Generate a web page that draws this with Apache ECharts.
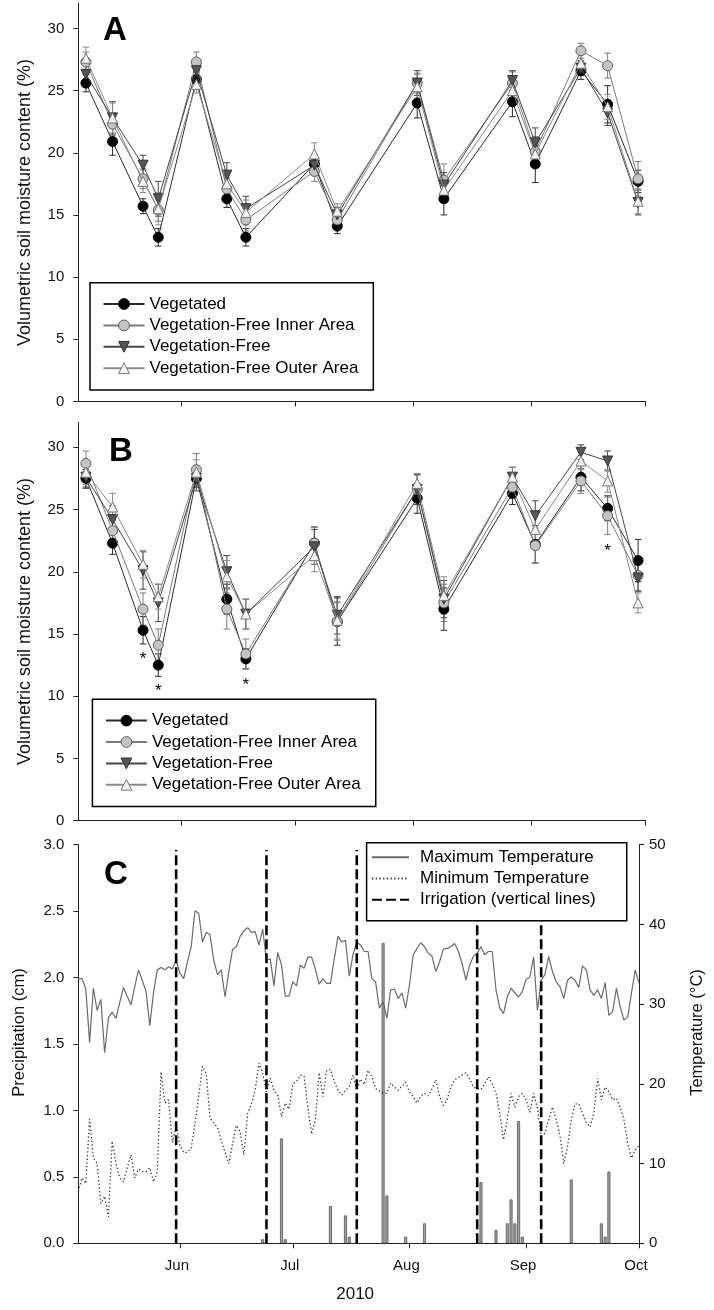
<!DOCTYPE html>
<html>
<head>
<meta charset="utf-8">
<script src="https://cdn.jsdelivr.net/npm/echarts@6/dist/echarts.min.js"></script>
<style>
  html, body { margin: 0; padding: 0; background: #fff; }
  #chart { width: 714px; height: 1310px; }
</style>
</head>
<body>
<div id="chart"></div>
<script>
// x axis is "days after 5 May 2010"
const START = Date.UTC(2010, 4, 5);
function day(s) {
  const [m, d] = s.split('-').map(Number);
  return (Date.UTC(2010, m - 1, d) - START) / 864e5;
}

const monthTicks = ['06-01', '07-01', '08-01', '09-01', '10-01'];
const monthLabels = ['Jun', 'Jul', 'Aug', 'Sep', 'Oct'];
const moistureTicks = [0, 5, 10, 15, 20, 25, 30];

const seriesNames = ['Vegetated', 'Vegetation-Free Inner Area', 'Vegetation-Free', 'Vegetation-Free Outer Area'];
const sampleDates = ['05-07', '05-14', '05-22', '05-26', '06-05', '06-13', '06-18', '07-06',
  '07-12', '08-02', '08-09', '08-27', '09-02', '09-14', '09-21', '09-29'];

// Panel A
const vegA = [25.6, 20.9, 15.7, 13.2, 25.9, 16.3, 13.2, 19.1, 14.1, 24.0, 16.3, 24.1, 19.1, 26.6, 23.9, 17.7];
const innerA = [27.3, 22.3, 17.9, 15.4, 27.3, 17.1, 14.6, 18.5, 14.6, 25.6, 17.8, 25.6, 20.1, 28.2, 27.0, 17.9];
const freeA = [26.3, 22.8, 19.0, 16.3, 26.6, 18.2, 15.5, 19.0, 15.0, 25.6, 17.4, 25.8, 20.8, 26.8, 23.2, 16.0];
const outerA = [27.6, 22.8, 17.7, 15.5, 25.5, 17.5, 15.2, 19.9, 15.3, 25.3, 17.0, 25.0, 19.9, 27.2, 23.7, 16.1];
const vegAErr = [0.7, 1.1, 0.6, 0.7, 0.7, 0.7, 0.7, 0.7, 0.6, 1.2, 1.3, 1.2, 1.5, 0.7, 1.5, 0.9];
const innerAErr = [0.8, 0.9, 0.8, 0.9, 0.8, 0.9, 0.9, 0.8, 0.7, 0.8, 1.3, 0.9, 1.2, 0.6, 1.0, 1.4];
const freeAErr = [0.8, 1.3, 0.8, 1.4, 0.8, 1.0, 1.0, 0.8, 0.6, 1.0, 1.0, 0.8, 1.2, 0.6, 1.0, 1.0];
const outerAErr = [0.9, 1.2, 0.9, 1.3, 0.7, 1.0, 1.0, 0.9, 0.6, 1.0, 1.0, 0.9, 1.0, 0.7, 1.0, 1.0];

// Panel B
const vegB = [27.5, 22.3, 15.3, 12.5, 27.5, 17.8, 13.0, 22.3, 16.0, 25.9, 17.0, 26.3, 22.2, 27.6, 25.1, 20.9];
const innerB = [28.7, 23.3, 17.0, 14.1, 28.2, 17.0, 13.4, 22.3, 16.0, 26.6, 17.5, 26.8, 22.1, 27.3, 24.5, 19.7];
const freeB = [27.6, 24.2, 20.1, 17.5, 27.5, 20.0, 16.6, 22.0, 16.5, 26.6, 17.8, 27.6, 24.5, 29.6, 28.9, 19.5];
const outerB = [28.0, 25.2, 20.6, 18.0, 28.0, 19.6, 16.6, 21.3, 16.1, 27.1, 18.1, 27.6, 23.4, 28.9, 27.3, 17.5];
const vegBErr = [0.7, 0.9, 1.1, 0.9, 0.7, 1.2, 0.8, 1.3, 1.9, 1.2, 1.7, 0.9, 1.5, 1.1, 1.0, 1.7];
const innerBErr = [1.0, 0.9, 1.3, 1.3, 1.3, 1.6, 1.2, 1.3, 1.5, 1.2, 1.5, 0.9, 1.4, 1.0, 1.5, 1.2];
const freeBErr = [0.9, 1.1, 1.5, 1.5, 1.0, 1.3, 1.2, 1.4, 1.5, 1.2, 1.5, 0.8, 1.2, 0.6, 0.8, 1.1];
const outerBErr = [1.0, 1.1, 1.1, 1.0, 1.0, 1.3, 1.2, 1.3, 1.5, 0.8, 1.5, 0.8, 1.3, 0.7, 0.9, 0.8];

// significance marks in panel B
const starDates = ['05-22', '05-26', '06-18', '09-21'];
const starLevels = [13.3, 10.7, 11.2, 22.0];

// Panel C: daily temperatures from 5 May to 1 Oct
const maxTemp = [
  33.2, 33.2, 31.9, 25.2, 32.0, 29.2, 30.6, 23.9, 28.3, 29.0,
  28.2, 30.2, 32.1, 31.0, 29.9, 32.2, 34.3, 33.0, 31.6, 27.3,
  31.5, 34.3, 34.6, 34.3, 34.7, 34.4, 35.5, 33.9, 33.2, 35.3,
  37.2, 41.7, 41.4, 37.8, 39.0, 38.7, 35.5, 33.7, 34.3, 30.9,
  34.1, 36.9, 37.2, 38.5, 39.2, 39.6, 39.0, 39.1, 37.4, 39.4,
  35.5, 35.7, 32.3, 36.5, 34.9, 31.0, 31.0, 32.8, 32.3, 34.9,
  34.5, 35.9, 35.9, 34.4, 32.5, 33.2, 32.6, 32.6, 35.6, 38.5,
  37.8, 38.0, 33.5, 36.2, 37.8, 37.4, 36.6, 36.6, 33.2, 32.8,
  29.5, 30.3, 28.2, 31.8, 31.9, 30.7, 31.4, 29.5, 32.4, 36.2,
  37.0, 37.7, 37.2, 36.4, 36.0, 34.1, 35.3, 36.9, 37.0, 37.2,
  37.6, 36.6, 35.1, 33.0, 34.9, 36.0, 36.4, 37.2, 36.2, 36.6,
  36.6, 31.8, 29.5, 28.8, 30.9, 32.0, 31.4, 30.9, 31.6, 33.1,
  33.4, 35.9, 29.2, 33.0, 33.7, 36.0, 34.1, 32.8, 32.2, 30.7,
  33.0, 33.4, 33.0, 32.1, 34.8, 34.3, 31.8, 31.1, 31.8, 30.7,
  32.7, 28.6, 29.1, 32.0, 29.7, 28.0, 28.4, 31.4, 34.3, 32.6
];
const minTemp = [
  6.5, 8.2, 7.5, 15.6, 10.7, 10.0, 5.0, 5.9, 3.3, 12.8,
  10.1, 8.2, 7.7, 9.5, 11.1, 8.2, 9.3, 9.0, 9.0, 9.5,
  7.7, 9.0, 21.5, 17.6, 18.0, 12.6, 14.8, 12.3, 11.4, 11.4,
  12.0, 15.0, 18.5, 22.2, 21.3, 15.7, 15.1, 14.5, 12.9, 11.4,
  10.0, 12.5, 14.8, 14.0, 11.1, 16.3, 17.5, 19.2, 22.6, 21.3,
  19.0, 20.7, 19.2, 18.6, 15.9, 17.6, 16.8, 20.0, 20.3, 21.1,
  21.0, 17.1, 13.7, 15.5, 21.4, 18.4, 21.7, 21.8, 20.3, 19.2,
  18.6, 19.2, 19.6, 21.1, 19.2, 20.6, 19.9, 21.7, 20.9, 19.4,
  19.1, 18.8, 18.8, 20.1, 19.6, 19.2, 19.7, 20.2, 19.0, 18.4,
  17.6, 18.5, 18.8, 18.5, 19.4, 20.5, 18.4, 17.3, 18.0, 19.6,
  20.5, 20.8, 21.1, 21.4, 20.6, 19.6, 19.4, 19.3, 20.0, 20.9,
  20.0, 18.8, 16.3, 13.0, 15.5, 18.8, 17.1, 18.4, 18.8, 18.0,
  16.4, 18.8, 17.0, 13.4, 13.8, 15.5, 17.1, 15.5, 13.5, 10.0,
  12.1, 15.5, 17.5, 17.5, 16.3, 15.1, 14.6, 16.3, 20.7, 18.0,
  19.6, 19.0, 18.0, 18.2, 17.1, 15.5, 12.5, 10.7, 11.7, 12.3
];
const precipDates = ['06-23', '06-28', '06-29', '07-11', '07-15', '07-16', '07-25', '07-26', '07-31', '08-05',
  '08-20', '08-24', '08-27', '08-28', '08-29', '08-30', '08-31', '09-13', '09-21', '09-22', '09-23'];
const precipCm = [0.03, 0.79, 0.03, 0.28, 0.21, 0.05, 2.26, 0.36, 0.05, 0.15,
  0.46, 0.10, 0.15, 0.33, 0.15, 0.92, 0.05, 0.48, 0.15, 0.05, 0.54];
const irrigationDates = ['05-31', '06-24', '07-18', '08-19', '09-05'];
const IRRIGATION_TOP = 2.96;

const FONT = "'Liberation Sans', Arial, sans-serif";
const AXIS_COLOR = '#222';
const monthDays = monthTicks.map(day);

const styles = [
  { symbol: 'circle', rotate: 0, fill: '#000', border: '#000', line: '#2a2a2a' },
  { symbol: 'circle', rotate: 0, fill: '#c4c4c4', border: '#606060', line: '#7a7a7a' },
  { symbol: 'triangle', rotate: 180, fill: '#555', border: '#333', line: '#454545' },
  { symbol: 'triangle', rotate: 0, fill: '#f2f2f2', border: '#777', line: '#8a8a8a' }
];

const panels = [
  { values: [vegA, innerA, freeA, outerA], errors: [vegAErr, innerAErr, freeAErr, outerAErr] },
  { values: [vegB, innerB, freeB, outerB], errors: [vegBErr, innerBErr, freeBErr, outerBErr] }
];

const GRID_LEFT = 78.3;
const GRID_WIDTH = 567.4;
const grids = [
  { left: GRID_LEFT, top: 3.5, width: GRID_WIDTH, height: 398 },
  { left: GRID_LEFT, top: 422.4, width: GRID_WIDTH, height: 398.3 },
  { left: GRID_LEFT, top: 844.7, width: GRID_WIDTH, height: 398.6 }
];

const axisLine = { show: true, onZero: false, lineStyle: { color: AXIS_COLOR, width: 1 } };
const axisTick = { show: true, inside: false, length: 5, lineStyle: { color: AXIS_COLOR, width: 1 } };
const labelStyle = { color: '#111', fontSize: 15, fontFamily: FONT };

function xAxisFor(i) {
  return {
    type: 'value', gridIndex: i, min: 0, max: 149,
    axisLine, splitLine: { show: false },
    axisTick: Object.assign({}, axisTick, { customValues: monthDays }),
    axisLabel: i === 2
      ? Object.assign({}, labelStyle, {
          margin: 15, padding: [0, 6, 0, 0], customValues: monthDays,
          formatter: v => monthLabels[monthDays.indexOf(v)] || ''
        })
      : { show: false },
    name: i === 2 ? '2010' : '',
    nameLocation: 'middle', nameGap: 43,
    nameTextStyle: { color: '#111', fontSize: 17, fontFamily: FONT, padding: [0, 7, 0, 0] }
  };
}

function moistureYAxis(i) {
  return {
    type: 'value', gridIndex: i, min: 0, max: 32,
    axisLine, splitLine: { show: false },
    axisTick: Object.assign({}, axisTick, { customValues: moistureTicks }),
    axisLabel: Object.assign({}, labelStyle, { margin: 14, customValues: moistureTicks }),
    name: 'Volumetric soil moisture content (%)',
    nameLocation: 'middle', nameRotate: 90, nameGap: 44,
    nameTextStyle: { color: '#111', fontSize: 18, fontFamily: FONT }
  };
}

function errorBars(color) {
  return function (params, api) {
    const x = api.value(0);
    const lo = api.coord([x, api.value(1)]);
    const hi = api.coord([x, api.value(2)]);
    const w = 3.3;
    const st = { stroke: color, lineWidth: 1 };
    return {
      type: 'group',
      children: [
        { type: 'line', shape: { x1: lo[0], y1: lo[1], x2: hi[0], y2: hi[1] }, style: st },
        { type: 'line', shape: { x1: lo[0] - w, y1: lo[1], x2: lo[0] + w, y2: lo[1] }, style: st },
        { type: 'line', shape: { x1: hi[0] - w, y1: hi[1], x2: hi[0] + w, y2: hi[1] }, style: st }
      ]
    };
  };
}

const series = [];
panels.forEach((panel, p) => {
  panel.values.forEach((vals, k) => {
    const s = styles[k];
    const errs = panel.errors[k];
    series.push({
      type: 'custom', xAxisIndex: p, yAxisIndex: p, z: 1,
      renderItem: errorBars(s.line),
      encode: { x: 0, y: [1, 2] },
      data: sampleDates.map((d, i) => [day(d), vals[i] - errs[i], vals[i] + errs[i]])
    });
  });
  panel.values.forEach((vals, k) => {
    const s = styles[k];
    series.push({
      type: 'line', name: seriesNames[k], xAxisIndex: p, yAxisIndex: p, z: 2 + k,
      data: sampleDates.map((d, i) => [day(d), vals[i]]),
      symbol: s.symbol, symbolRotate: s.rotate, symbolSize: 10,
      itemStyle: { color: s.fill, borderColor: s.border, borderWidth: 1 },
      lineStyle: { color: s.line, width: 1 }
    });
  });
});

series.push({
  type: 'custom', xAxisIndex: 1, yAxisIndex: 1, z: 6,
  encode: { x: 0, y: 1 },
  data: starDates.map((d, i) => [day(d), starLevels[i]]),
  renderItem(params, api) {
    const pt = api.coord([api.value(0), api.value(1)]);
    return {
      type: 'text',
      style: { x: pt[0], y: pt[1] + 4, text: '*', textAlign: 'center', textVerticalAlign: 'middle',
        fill: '#000', font: "17px 'Liberation Sans', Arial, sans-serif" }
    };
  }
});

series.push({
  type: 'line', name: 'Maximum Temperature', xAxisIndex: 2, yAxisIndex: 3, z: 2,
  data: maxTemp.map((v, i) => [i, v]),
  showSymbol: false, symbol: 'none',
  lineStyle: { color: '#6a6a6a', width: 1.2 }
});
series.push({
  type: 'line', name: 'Minimum Temperature', xAxisIndex: 2, yAxisIndex: 3, z: 2,
  data: minTemp.map((v, i) => [i, v]),
  showSymbol: false, symbol: 'none',
  lineStyle: { color: '#333', width: 1.3, type: [1.3, 2.4] }
});
series.push({
  type: 'bar', name: 'Precipitation', xAxisIndex: 2, yAxisIndex: 2, z: 2,
  barWidth: 3,
  data: precipDates.map((d, i) => [day(d), precipCm[i]]),
  itemStyle: { color: '#a0a0a0', borderColor: '#555', borderWidth: 0.8 }
});
const irrigationData = [];
irrigationDates.forEach(d => {
  irrigationData.push([day(d), 0], [day(d), IRRIGATION_TOP], [day(d), '-']);
});
series.push({
  type: 'line', name: 'Irrigation (vertical lines)', xAxisIndex: 2, yAxisIndex: 2, z: 2,
  data: irrigationData, connectNulls: false,
  showSymbol: false, symbol: 'none',
  lineStyle: { color: '#000', width: 2.6, type: [10, 4] }
});

function moistureLegend(left, top) {
  return {
    data: seriesNames, left, top, orient: 'vertical', selectedMode: false, z: 20,
    padding: [12.8, 15, 13.2, 12.5], itemWidth: 41, itemHeight: 13.5, itemGap: 4.4,
    itemStyle: { borderWidth: 1 },
    textStyle: { color: '#000', fontSize: 17, lineHeight: 17, fontFamily: FONT },
    borderColor: '#000', borderWidth: 1.5, backgroundColor: '#fff', borderRadius: 0
  };
}

const option = {
  animation: false,
  backgroundColor: '#fff',
  textStyle: { fontFamily: FONT },
  title: [
    { text: 'A', left: 103, top: 14, padding: 0, textStyle: { fontSize: 33, fontWeight: 'bold', color: '#000', fontFamily: FONT } },
    { text: 'B', left: 109, top: 435.5, padding: 0, textStyle: { fontSize: 33, fontWeight: 'bold', color: '#000', fontFamily: FONT } },
    { text: 'C', left: 104, top: 858, padding: 0, textStyle: { fontSize: 33, fontWeight: 'bold', color: '#000', fontFamily: FONT } }
  ],
  legend: [
    moistureLegend(90, 282.7),
    moistureLegend(92.4, 699.3),
    {
      data: [
        { name: 'Maximum Temperature', itemStyle: { opacity: 0 } },
        { name: 'Minimum Temperature', itemStyle: { opacity: 0 } },
        { name: 'Irrigation (vertical lines)', itemStyle: { opacity: 0 } }
      ],
      left: 366.6, top: 842.7, orient: 'vertical', selectedMode: false, z: 20,
      padding: [6, 31, 12.5, 4.4], itemWidth: 37, itemHeight: 13, itemGap: 4.3,
      textStyle: { color: '#000', fontSize: 17, lineHeight: 17, fontFamily: FONT, padding: [0, 0, 0, 6] },
      borderColor: '#000', borderWidth: 1.5, backgroundColor: '#fff'
    }
  ],
  grid: grids,
  xAxis: [xAxisFor(0), xAxisFor(1), xAxisFor(2)],
  yAxis: [
    moistureYAxis(0),
    moistureYAxis(1),
    {
      type: 'value', gridIndex: 2, min: 0, max: 3, interval: 0.5,
      axisLine, axisTick, splitLine: { show: false },
      axisLabel: Object.assign({}, labelStyle, { margin: 14, formatter: v => v.toFixed(1) }),
      name: 'Precipitation (cm)', nameLocation: 'middle', nameRotate: 90, nameGap: 50,
      nameTextStyle: { color: '#111', fontSize: 16.5, fontFamily: FONT, padding: [0, 0, 0, 23] }
    },
    {
      type: 'value', gridIndex: 2, position: 'right', min: 0, max: 50, interval: 10,
      axisLine, axisTick, splitLine: { show: false },
      axisLabel: Object.assign({}, labelStyle, { margin: 10 }),
      name: 'Temperature (°C)', nameLocation: 'middle', nameRotate: 90, nameGap: 50,
      nameTextStyle: { color: '#111', fontSize: 16.5, fontFamily: FONT, padding: [0, 0, 0, 23] }
    }
  ],
  series
};

const chart = echarts.init(document.getElementById('chart'), null, { renderer: 'canvas' });
chart.setOption(option);
</script>
</body>
</html>
